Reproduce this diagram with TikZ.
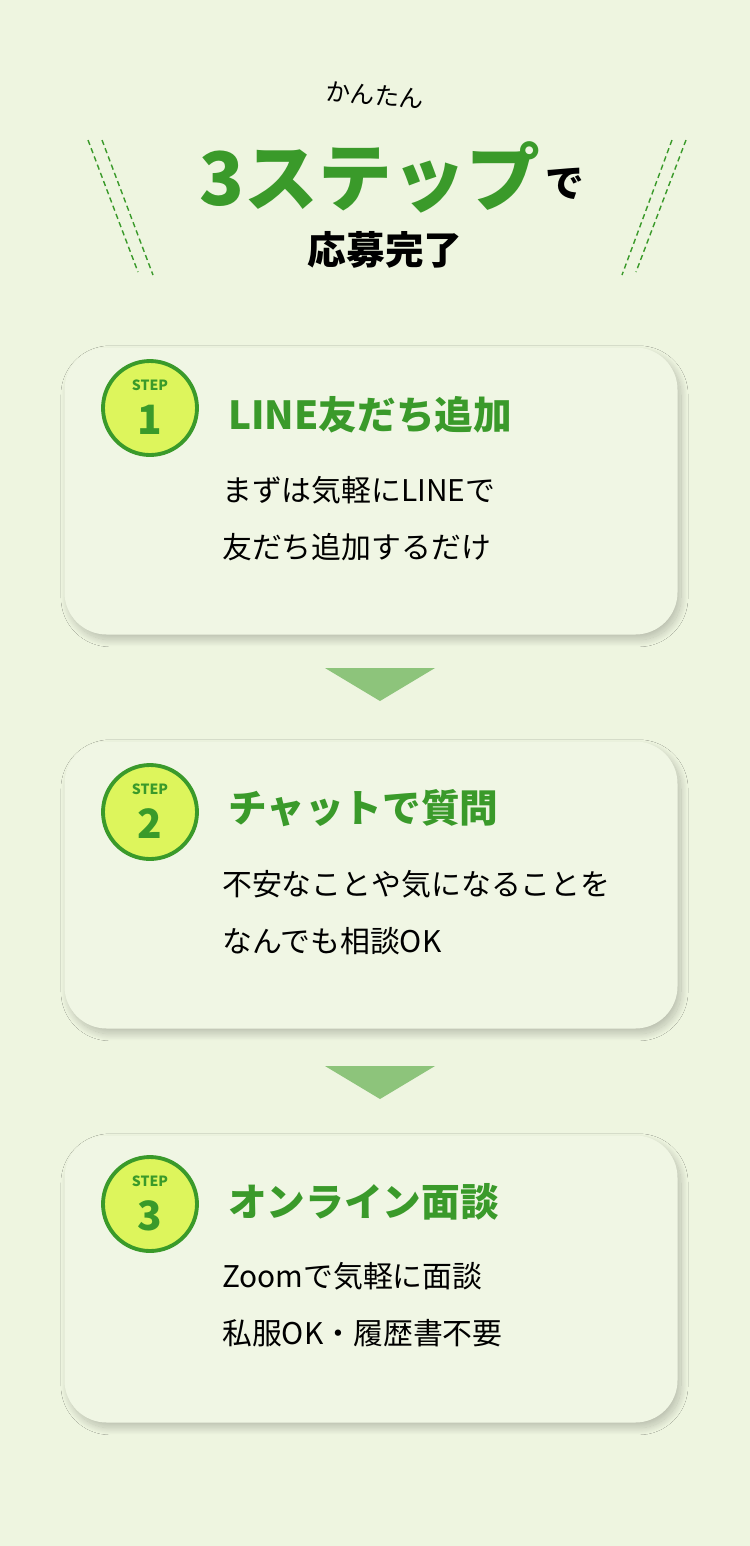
\documentclass[tikz,border=0pt]{standalone}
\usepackage{fontspec}
\setmainfont{Noto Sans CJK JP}
\usetikzlibrary{positioning,shadows.blur}
\definecolor{bgpale}{HTML}{EEF5E0}
\definecolor{cardpale}{HTML}{F0F6E4}
\definecolor{stepgreen}{HTML}{3A9A2A}
\definecolor{steplime}{HTML}{DDF55C}
\definecolor{arrowgreen}{HTML}{8DC47B}

\tikzset{
  card/.style={fill=cardpale, rounded corners=24pt, minimum width=613*0.02cm, minimum height=287*0.02cm,
    blur shadow={shadow xshift=2pt, shadow yshift=-3pt, shadow blur radius=4pt, shadow blur steps=20, shadow opacity=22}},
  badge/.style={circle, draw=stepgreen, line width=2.2pt, fill=steplime, minimum size=94*0.02cm, inner sep=0pt},
  heading/.style={anchor=west, text=stepgreen, font=\fontsize{22}{24}\selectfont\bfseries},
  body/.style={anchor=north west, align=left, font=\fontsize{17}{32.5}\selectfont},
  tri/.style={fill=arrowgreen},
  deco/.style={stepgreen, dashed, dash pattern=on 3pt off 2pt, line width=0.8pt}
}

\begin{document}
\begin{tikzpicture}[x=0.02cm, y=-0.02cm]
    \fill[bgpale] (0,0) rectangle (750,1546);
    \useasboundingbox (0,0) rectangle (750,1546);

    % Title
    \node[rotate=-4, font=\fontsize{14}{16}\selectfont] (easy) at (375,95) {かんたん};
    \node[text=stepgreen, font=\fontsize{42}{48}\selectfont\bfseries] (three) at (370,177) {3ステップ};
    \node[font=\fontsize{22}{24}\selectfont\bfseries, anchor=west] (de) at ([xshift=-4pt,yshift=-4pt]three.east) {で};
    \node[font=\fontsize{22}{24}\selectfont\bfseries] (done) at (385,250) {応募完了};

    % Decorations
    \draw[deco] (88,140) -- (138,272);
    \draw[deco] (102,140) -- (153,275);
    \draw[deco] (686,140) -- (636,272);
    \draw[deco] (672,140) -- (622,275);

    % Cards
    \node[card] (c1) at (371,491) {};
    \node[card] (c2) at (371,885) {};
    \node[card] (c3) at (371,1279) {};

    % Arrows between cards
    \fill[tri] (325,668) -- (435,668) -- (380,701) -- cycle;
    \fill[tri] (325,1066) -- (435,1066) -- (380,1099) -- cycle;

    % Step 1
    \node[badge] (b1) at (150,408) {};
    \node[text=stepgreen, font=\fontsize{8}{9}\selectfont\bfseries] at (150,385) {STEP};
    \node[text=stepgreen, font=\fontsize{23}{24}\selectfont\bfseries] at (150,420) {1};
    \node[heading] (h1) at (222,415) {LINE友だち追加};
    \node[body] (t1) at (216,470) {まずは気軽にLINEで\\友だち追加するだけ};

    % Step 2
    \node[badge] (b2) at (150,812) {};
    \node[text=stepgreen, font=\fontsize{8}{9}\selectfont\bfseries] at (150,789) {STEP};
    \node[text=stepgreen, font=\fontsize{23}{24}\selectfont\bfseries] at (150,824) {2};
    \node[heading] (h2) at (222,808) {チャットで質問};
    \node[body] (t2) at (216,864) {不安なことや気になることを\\なんでも相談OK};

    % Step 3
    \node[badge] (b3) at (150,1204) {};
    \node[text=stepgreen, font=\fontsize{8}{9}\selectfont\bfseries] at (150,1181) {STEP};
    \node[text=stepgreen, font=\fontsize{23}{24}\selectfont\bfseries] at (150,1216) {3};
    \node[heading] (h3) at (222,1202) {オンライン面談};
    \node[body] (t3) at (216,1256) {Zoomで気軽に面談\\私服OK・履歴書不要};
\end{tikzpicture}
\end{document}
